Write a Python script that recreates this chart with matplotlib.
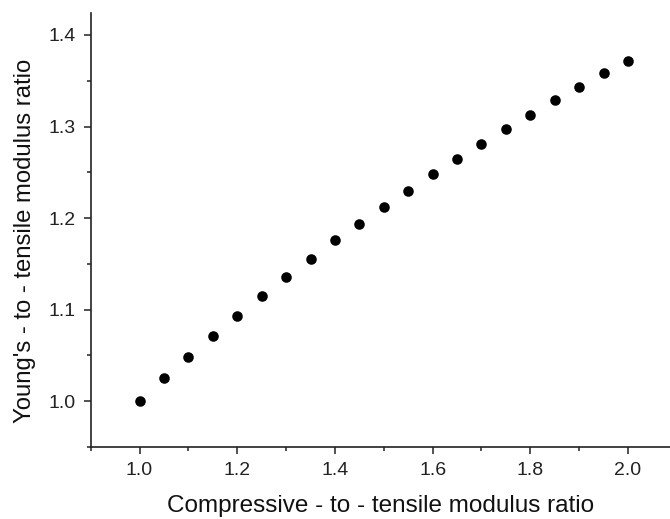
import numpy as np
import matplotlib
matplotlib.use('Agg')
import matplotlib.pyplot as plt
from matplotlib.ticker import MultipleLocator

plt.rcParams['font.family'] = ['Liberation Sans', 'DejaVu Sans']

# 压缩/拉伸模量比 与 杨氏/拉伸模量比
ratio_ct = [1.00, 1.05, 1.10, 1.15, 1.20, 1.25, 1.30, 1.35, 1.40, 1.45, 1.50,
            1.55, 1.60, 1.65, 1.70, 1.75, 1.80, 1.85, 1.90, 1.95, 2.00]
ratio_yt = [1.000, 1.025, 1.048, 1.071, 1.093, 1.115, 1.136, 1.155, 1.176, 1.194, 1.212,
            1.230, 1.248, 1.264, 1.281, 1.297, 1.313, 1.329, 1.343, 1.358, 1.372]

fig = plt.figure(figsize=(6.7, 5.19), dpi=100)
ax = fig.add_axes([0.1354, 0.1387, 0.8646, 0.8363])

ax.plot(ratio_ct, ratio_yt, 'o', color='black', markersize=7.6, markeredgewidth=0)

ax.set_xlim(0.9, 2.086)
ax.set_ylim(0.95, 1.424)
ax.xaxis.set_major_locator(MultipleLocator(0.2))
ax.xaxis.set_minor_locator(MultipleLocator(0.1))
ax.yaxis.set_major_locator(MultipleLocator(0.1))
ax.yaxis.set_minor_locator(MultipleLocator(0.05))
ax.xaxis.set_major_formatter(plt.FormatStrFormatter('%.1f'))
ax.yaxis.set_major_formatter(plt.FormatStrFormatter('%.1f'))

for s in ['top', 'right']:
    ax.spines[s].set_visible(False)
for s in ['left', 'bottom']:
    ax.spines[s].set_linewidth(1.2)
    ax.spines[s].set_color('#222222')

ax.tick_params(which='major', direction='out', length=5, width=1.1, labelsize=14,
               labelcolor='#222222', color='#222222', pad=6)
ax.tick_params(which='minor', direction='out', length=3, width=1.1, color='#222222')

ax.set_xlabel('Compressive - to - tensile modulus ratio', fontsize=17.5, color='#111111', labelpad=11)
ax.set_ylabel("Young's - to - tensile modulus ratio", fontsize=17.2, color='#111111')
ax.yaxis.set_label_coords(-0.094, 0.475)

plt.savefig('out.png', dpi=100)
